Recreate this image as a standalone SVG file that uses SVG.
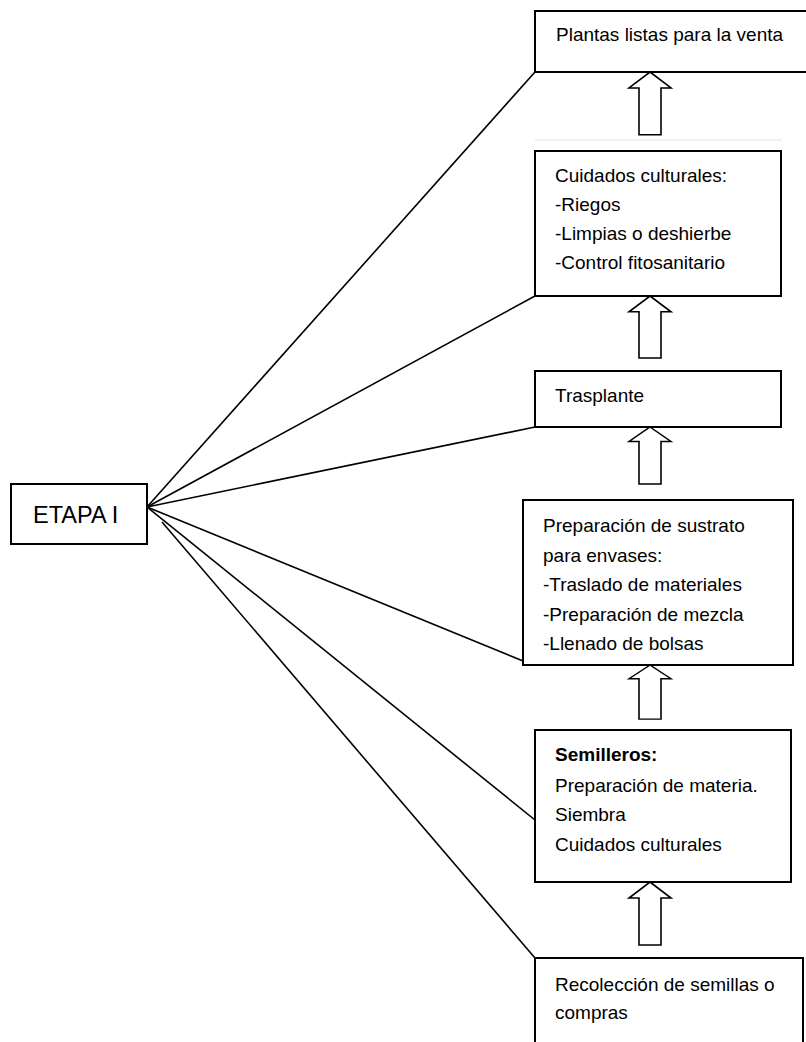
<svg xmlns="http://www.w3.org/2000/svg" width="806" height="1042" viewBox="0 0 806 1042">
  <defs>
    <style>
      .box { fill: #fff; stroke: #000; stroke-width: 2; }
      .lbl { font-family: "Liberation Sans", Arial, sans-serif; font-size: 19px; fill: #000; }
      .bold { font-weight: bold; }
      .big { font-size: 23.5px; }
      .link { stroke: #000; stroke-width: 1.6; fill: none; }
      .up { fill: #fff; stroke: #000; stroke-width: 1.6; stroke-linejoin: miter; }
    </style>
    <!-- hollow block arrow pointing up, tip at origin -->
    <path id="uparrow" d="M0,0 L21,16 L11,16 L11,63 L-11,63 L-11,16 L-21,16 Z"/>
  </defs>

  <rect width="806" height="1042" fill="#fff"/>

  <!-- connectors from the stage box to every step -->
  <g id="connectors">
    <line class="link" x1="147" y1="507" x2="535" y2="72"/>
    <line class="link" x1="147" y1="507" x2="535" y2="296"/>
    <line class="link" x1="147" y1="507" x2="535" y2="427"/>
    <line class="link" x1="147" y1="507" x2="533" y2="665"/>
    <line class="link" x1="147" y1="507" x2="535" y2="820"/>
    <line class="link" x1="162" y1="522" x2="535" y2="958"/>
    <line x1="535" y1="140" x2="782" y2="140" stroke="#e2e2e2" stroke-width="1"/>
  </g>

  <!-- upward flow arrows between steps -->
  <g id="flow-arrows">
    <use href="#uparrow" class="up" transform="translate(650,72) scale(1,0.997)"/>
    <use href="#uparrow" class="up" transform="translate(650,296) scale(1,0.985)"/>
    <use href="#uparrow" class="up" transform="translate(650,427) scale(1,0.905)"/>
    <use href="#uparrow" class="up" transform="translate(650,665) scale(1,0.86)"/>
    <use href="#uparrow" class="up" transform="translate(650,882) scale(1,1)"/>
  </g>

  <g id="etapa">
    <rect class="box" x="11" y="484" width="136" height="60"/>
    <text class="lbl big" x="33" y="523">ETAPA I</text>
  </g>

  <g id="plantas">
    <rect class="box" x="535" y="11" width="280" height="61"/>
    <text class="lbl" x="556" y="41">Plantas listas para la venta</text>
  </g>

  <g id="cuidados">
    <rect class="box" x="535" y="151" width="246" height="145"/>
    <text class="lbl" x="555" y="182">Cuidados culturales:</text>
    <text class="lbl" x="555" y="211">-Riegos</text>
    <text class="lbl" x="555" y="240">-Limpias o deshierbe</text>
    <text class="lbl" x="555" y="269">-Control fitosanitario</text>
  </g>

  <g id="trasplante">
    <rect class="box" x="535" y="371" width="246" height="56"/>
    <text class="lbl" x="555" y="402">Trasplante</text>
  </g>

  <g id="sustrato">
    <rect class="box" x="523" y="500" width="270" height="165"/>
    <text class="lbl" x="543" y="532">Preparación de sustrato</text>
    <text class="lbl" x="543" y="561.5">para envases:</text>
    <text class="lbl" x="543" y="591">-Traslado de materiales</text>
    <text class="lbl" x="543" y="620.5">-Preparación de mezcla</text>
    <text class="lbl" x="543" y="650">-Llenado de bolsas</text>
  </g>

  <g id="semilleros">
    <rect class="box" x="535" y="730" width="256" height="152"/>
    <text class="lbl bold" x="555" y="761">Semilleros:</text>
    <text class="lbl" x="555" y="792">Preparación de materia.</text>
    <text class="lbl" x="555" y="821">Siembra</text>
    <text class="lbl" x="555" y="851">Cuidados culturales</text>
  </g>

  <g id="recoleccion">
    <rect class="box" x="535" y="958" width="268" height="100"/>
    <text class="lbl" x="555" y="991">Recolección de semillas o</text>
    <text class="lbl" x="555" y="1019">compras</text>
  </g>
</svg>
